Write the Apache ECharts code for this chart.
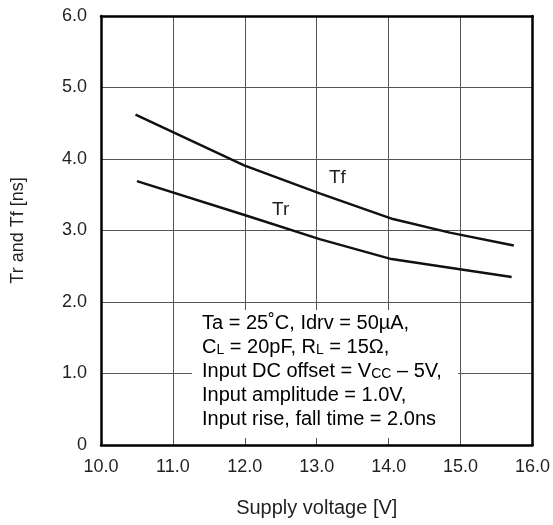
<!DOCTYPE html>
<html>
<head>
<meta charset="utf-8">
<script src="https://cdn.jsdelivr.net/npm/echarts@6/dist/echarts.min.js"></script>
<style>
  html, body { margin: 0; padding: 0; background: #fff; }
  #chart { width: 553px; height: 525px; }
</style>
</head>
<body>
<div id="chart"></div>
<script>
// ---- data ----
const tfVoltage = [10.48, 11.99, 13.04, 14.06, 14.85, 15.74];
const tfValues  = [4.62, 3.91, 3.52, 3.16, 2.97, 2.79];
const trVoltage = [10.50, 12.05, 13.04, 14.04, 14.85, 15.71];
const trValues  = [3.69, 3.20, 2.88, 2.60, 2.48, 2.35];
const xTicks = [10, 11, 12, 13, 14, 15, 16];
const yTicks = [0, 1, 2, 3, 4, 5, 6];
const xName = 'Supply voltage [V]';
const yName = 'Tr and Tf [ns]';
const seriesNames = ['Tf', 'Tr'];
const noteLines = [
  '{n|Ta = 25˚C, Idrv = 50µA,}',
  '{n|C}{s|L}{n| = 20pF, R}{s|L}{n| = 15Ω,}',
  '{n|Input DC offset = V}{s|CC}{n| – 5V,}',
  '{n|Input amplitude = 1.0V,}',
  '{n|Input rise, fall time = 2.0ns}'
];

const FONT = "'Liberation Sans', Arial, Helvetica, sans-serif";
const TXT = '#231f20';

const chart = echarts.init(document.getElementById('chart'), null, { renderer: 'canvas' });

const pairs = (xs, ys) => xs.map((x, i) => [x, ys[i]]);

const option = {
  backgroundColor: '#fff',
  animation: false,
  grid: { left: 101, right: 20, top: 16, bottom: 80, containLabel: false },
  xAxis: [{
    type: 'value',
    min: xTicks[0], max: xTicks[xTicks.length - 1], interval: 1,
    name: xName, nameLocation: 'middle', nameGap: 53,
    nameTextStyle: { fontFamily: FONT, fontSize: 20, color: TXT },
    axisLine: { show: true, onZero: false, lineStyle: { color: '#000', width: 2.5 } },
    axisTick: { show: false },
    axisLabel: { fontFamily: FONT, fontSize: 18, color: TXT, margin: 13,
      formatter: v => v.toFixed(1) },
    splitLine: { show: true, showMinLine: false, showMaxLine: false,
      lineStyle: { color: '#555', width: 1 } }
  }, {
    type: 'value', position: 'top',
    min: xTicks[0], max: xTicks[xTicks.length - 1],
    axisLine: { show: true, onZero: false, lineStyle: { color: '#000', width: 2.5 } },
    axisTick: { show: false }, axisLabel: { show: false }, splitLine: { show: false }
  }],
  yAxis: [{
    type: 'value',
    min: yTicks[0], max: yTicks[yTicks.length - 1], interval: 1,
    name: yName, nameLocation: 'middle', nameGap: 74, nameRotate: 90,
    nameTextStyle: { fontFamily: FONT, fontSize: 18, color: TXT },
    axisLine: { show: true, onZero: false, lineStyle: { color: '#000', width: 2.5 } },
    axisTick: { show: false },
    axisLabel: { fontFamily: FONT, fontSize: 18, color: TXT, margin: 14,
      formatter: v => v === 0 ? '0' : v.toFixed(1) },
    splitLine: { show: true, showMinLine: false, showMaxLine: false,
      lineStyle: { color: '#555', width: 1 } }
  }, {
    type: 'value', position: 'right',
    min: yTicks[0], max: yTicks[yTicks.length - 1],
    axisLine: { show: true, onZero: false, lineStyle: { color: '#000', width: 2.5 } },
    axisTick: { show: false }, axisLabel: { show: false }, splitLine: { show: false }
  }],
  series: [{
    name: seriesNames[0], type: 'line', xAxisIndex: 0, yAxisIndex: 0,
    data: pairs(tfVoltage, tfValues), symbol: 'none', z: 5,
    lineStyle: { color: '#111', width: 2.5 }
  }, {
    name: seriesNames[1], type: 'line', xAxisIndex: 0, yAxisIndex: 0,
    data: pairs(trVoltage, trValues), symbol: 'none', z: 5,
    lineStyle: { color: '#111', width: 2.5 }
  }],
  graphic: [
    { type: 'rect', z: 3, shape: { x: 192, y: 310, width: 266, height: 128 },
      style: { fill: '#fff' } },
    { type: 'text', z: 4, left: 202, top: 313,
      style: {
        text: noteLines.join('\n'),
        rich: {
          n: { fontFamily: FONT, fontSize: 20, color: TXT, lineHeight: 24, verticalAlign: 'bottom' },
          s: { fontFamily: FONT, fontSize: 14, color: TXT, lineHeight: 22, verticalAlign: 'bottom' }
        }
      } },
    { type: 'text', z: 4, left: 329, top: 168,
      style: { text: seriesNames[0], fontFamily: FONT, fontSize: 19, fill: TXT } },
    { type: 'text', z: 4, left: 272, top: 200,
      style: { text: seriesNames[1], fontFamily: FONT, fontSize: 19, fill: TXT } }
  ]
};

chart.setOption(option);
</script>
</body>
</html>
